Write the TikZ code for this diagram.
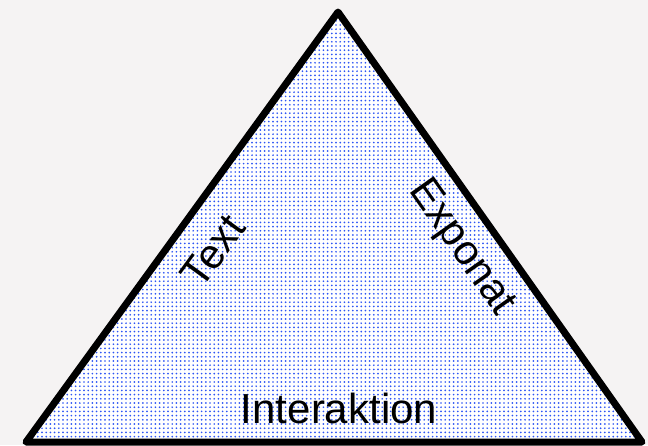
\documentclass[tikz,border=0pt]{standalone}
\usepackage{fontspec}
\setmainfont{Liberation Sans}
\usetikzlibrary{patterns.meta}

\definecolor{paper}{RGB}{245,243,243}
\definecolor{dotblue}{RGB}{45,85,245}

\begin{document}
\begin{tikzpicture}[x=1pt, y=-1pt,
    side/.style= {font=\fontsize{42}{50}\selectfont, inner sep=0pt},
]

\def\w{648}
\def\h{445}

% background
\fill[paper] (0,0) rectangle (\w,\h);
\useasboundingbox (0,0) rectangle (\w,\h);

% corners
\coordinate (apex) at (338,12);
\coordinate (left) at (26,442);
\coordinate (right) at (642,442);

% dotted filling
\fill[white] (apex) -- (left) -- (right) -- cycle;
\fill[pattern={Dots[distance=4.2pt, radius=0.95pt]}, pattern color=dotblue]
 (apex) -- (left) -- (right) -- cycle;

% outline
\draw[line width=7pt, line join=round] (apex) -- (left) -- (right) -- cycle;

% labels
\node[side, rotate=54] (text) at (213,251) {Text};
\node[side, rotate=-54.7] (exponat) at (461,248) {Exponat};
\node[side, anchor=base] (interaktion) at (339,423) {Interaktion};
\end{tikzpicture}
\end{document}
